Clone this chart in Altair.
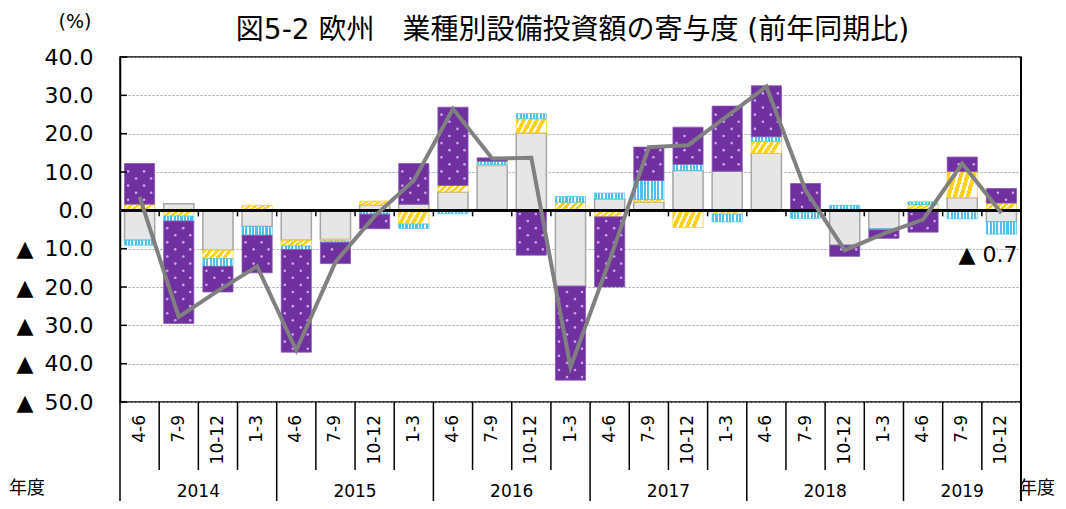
import altair as alt
import pandas as pd

# ---------------- data ----------------
quarter_labels = ["4-6", "7-9", "10-12", "1-3"] * 5 + ["4-6", "7-9", "10-12"]
fiscal_years = [2014] * 4 + [2015] * 4 + [2016] * 4 + [2017] * 4 + [2018] * 4 + [2019] * 3
years = [2014, 2015, 2016, 2017, 2018, 2019]

series_names = ["非製造業", "化学", "電気機械", "輸送機械"]
grey_vals = [-7.8, 1.7, -10.4, -4.2, -7.8, -7.6, 1.3, 1.6, 4.8, 11.7, 20.2, -19.8,
             3.0, 2.2, 10.4, 10.2, 14.9, 0.0, -9.1, -4.8, 0.4, 3.3, -3.0]
yellow_vals = [1.6, -1.5, -2.2, 1.3, -1.5, -0.4, 1.1, -3.6, 1.7, 0.2, 3.7, 2.1,
               -1.7, 0.6, -4.5, -1.0, 3.1, -0.5, 0.3, 0.0, 1.1, 6.8, 1.9]
cyan_vals = [-1.3, -1.3, -2.0, -2.3, -0.9, -0.4, -1.0, -1.1, -0.9, 0.9, 1.3, 1.5,
             1.5, 5.0, 1.6, -2.0, 1.2, -1.6, 1.0, -0.3, 0.7, -2.2, -3.2]
purple_vals = [10.6, -26.7, -6.7, -9.8, -26.8, -5.5, -3.8, 10.6, 20.4, 0.9, -11.7, -24.5,
               -18.3, 8.7, 9.7, 17.0, 13.3, 7.0, -2.9, -2.2, -5.7, 3.8, 3.8]
total_vals = [3.5, -27.8, -21.0, -14.6, -36.5, -13.5, -1.5, 7.8, 26.5, 13.5, 13.7, -40.9,
              -13.0, 16.5, 17.0, 24.6, 32.3, 5.2, -10.4, -6.1, -2.4, 12.2, -0.7]
y_ticks = [-50, -40, -30, -20, -10, 0, 10, 20, 30, 40]

title_text = "図5-2 欧州\u3000業種別設備投資額の寄与度 (前年同期比)"

# ---------------- tables ----------------
ids = [f"{y} {q}" for y, q in zip(fiscal_years, quarter_labels)]
qdf = pd.DataFrame({"q": ids, "label": quarter_labels, "fy": fiscal_years,
                    "idx": range(len(ids))})
qdf["ystart"] = (qdf["label"] == "4-6") & (qdf["idx"] > 0)
qdf["inner"] = (qdf["label"] != "4-6") & (qdf["idx"] > 0)

all_vals = [grey_vals, yellow_vals, cyan_vals, purple_vals]
rows = []
for i, qid in enumerate(ids):
    pos, neg = 0.0, 0.0
    for name, vals in zip(series_names, all_vals):
        v = vals[i]
        if v >= 0:
            y0, pos = pos, pos + v
            y1 = pos
        else:
            y0, neg = neg, neg + v
            y1 = neg
        rows.append({"q": qid, "series": name, "value": v, "y0": y0, "y1": y1})
stack = pd.DataFrame(rows)

# dot texture for the purple segments (derived from the stacked bounds)
dots = []
step = 1.85
for r in stack[stack["series"] == series_names[3]].itertuples():
    lo, hi = min(r.y0, r.y1), max(r.y0, r.y1)
    k0 = int((lo - 0.9) // step) - 1
    k1 = int((hi - 0.9) // step) + 1
    for k in range(k0, k1 + 1):
        yv = 0.9 + k * step
        if lo + 0.6 < yv < hi - 0.6:
            cols = (0, 1) if k % 2 == 0 else (2, 3)
            for c in cols:
                dots.append({"q": r.q, "yv": yv, "col": c})
dots = pd.DataFrame(dots)
dot_offsets = [-3.5, 11.5, -11.5, 4.5]

line_df = pd.DataFrame({"q": ids, "total": total_vals})
ann_df = line_df.tail(1).copy()
tick_df = pd.DataFrame({"v": y_ticks})

full_years = [y for y in years if fiscal_years.count(y) == 4]
part_years = [y for y in years if fiscal_years.count(y) < 4]
yr_full = pd.DataFrame({"yr": [str(y) for y in full_years],
                        "q": [f"{y} 10-12" for y in full_years]})
yr_part = pd.DataFrame({"yr": [str(y) for y in part_years],
                        "q": [f"{y} 7-9" for y in part_years]})

# ---------------- layout ----------------
W, H = 901, 345
FONT = "'DejaVu Sans', 'Noto Sans CJK JP', sans-serif"
xscale = alt.Scale(domain=ids, paddingInner=0, paddingOuter=0)
yscale = alt.Scale(domain=[-50, 40], nice=False, zero=False)

yaxis = alt.Axis(values=y_ticks, grid=True, gridDash=[2, 2], gridColor="#A0A0A0",
                 gridWidth=1, domainColor="black", domainWidth=1.5, ticks=False,
                 tickSize=0, labelFontSize=22, labelFont=FONT, labelColor="black",
                 labelPadding=27, title=None,
                 labelExpr="datum.value < 0 ? '▲\u2002' + format(-datum.value, '.1f') : format(datum.value, '.1f')")


def X(**kw):
    return alt.X("q:N", scale=xscale, axis=None, **kw)


def Y(field):
    return alt.Y(field, scale=yscale, axis=yaxis)


def YD(v):
    return alt.YDatum(v, scale=yscale, axis=yaxis)


def stripes(base, stripe, n, wf, x2, y2):
    stops = []
    for i in range(n):
        a = i / n
        m = (i + 1 - wf) / n
        b = (i + 1) / n
        stops += [{"offset": a, "color": base}, {"offset": m, "color": base},
                  {"offset": m, "color": stripe}, {"offset": b, "color": stripe}]
    return {"gradient": "linear", "x1": 0, "y1": 0, "x2": x2, "y2": y2, "stops": stops}


fills = {
    series_names[0]: "#E6E6E6",
    series_names[1]: stripes("#FFD21A", "#FFFFFF", 5, 0.35, 1, 0.25),
    series_names[2]: stripes("#4CC3EE", "#FFFFFF", 9, 0.38, 1, 0),
    series_names[3]: "#7030A0",
}
strokes = {series_names[0]: "#A6A6A6", series_names[1]: "#FFD21A",
           series_names[2]: "#4CC3EE", series_names[3]: "#8A5BB5"}

layers = []
for i, name in enumerate(series_names):
    layers.append(
        alt.Chart(stack).transform_filter(alt.datum.series == name)
        .mark_bar(width=alt.RelativeBandSize(0.77), fill=fills[name],
                  stroke=strokes[name], strokeWidth=1.5 if i == 0 else 0.8)
        .encode(x=X(), y=Y("y0:Q"), y2="y1:Q")
    )

for c, off in enumerate(dot_offsets):
    layers.append(
        alt.Chart(dots).transform_filter(alt.datum.col == c)
        .mark_point(filled=True, size=7, color="#C9A6EC", opacity=1, xOffset=off)
        .encode(x=X(), y=Y("yv:Q"))
    )

# zero line + ticks at the category boundaries
layers.append(alt.Chart(tick_df).mark_rule(color="black", strokeWidth=1.6)
              .encode(y=YD(0)))
layers.append(alt.Chart(qdf).transform_filter(alt.datum.idx > 0)
              .mark_rule(color="black", strokeWidth=1.5, y2Offset=6)
              .encode(x=X(bandPosition=0), y=YD(0), y2=alt.datum(0)))
# inside ticks on y axis
layers.append(alt.Chart(tick_df).mark_rule(color="black", strokeWidth=1.5)
              .encode(y=Y("v:Q"), x=alt.value(0), x2=alt.value(7)))

# total line
layers.append(alt.Chart(line_df).mark_line(color="#808080", strokeWidth=4, strokeJoin="miter")
              .encode(x=X(), y=Y("total:Q")))

# annotation for last value
layers.append(alt.Chart(ann_df)
              .transform_calculate(txt="(datum.total < 0 ? '▲ ' : '') + format(abs(datum.total), '.1f')")
              .mark_text(font=FONT, fontSize=22, align="right", baseline="middle", dx=16, color="black")
              .encode(x=X(), y=YD(-11.7), text="txt:N"))

# category table below the plot
layers.append(alt.Chart(qdf).transform_filter(alt.datum.inner)
              .mark_rule(color="black", strokeWidth=1.5)
              .encode(x=X(bandPosition=0), y=alt.value(H), y2=alt.value(H + 68)))
layers.append(alt.Chart(qdf).transform_filter(alt.datum.ystart)
              .mark_rule(color="black", strokeWidth=1.5)
              .encode(x=X(bandPosition=0), y=alt.value(H), y2=alt.value(H + 120)))
layers.append(alt.Chart(tick_df).transform_filter(alt.datum.v == 0)
              .mark_rule(color="black", strokeWidth=1.5)
              .encode(x=alt.value(0), y=alt.value(H), y2=alt.value(H + 120)))
layers.append(alt.Chart(tick_df).transform_filter(alt.datum.v == 0)
              .mark_rule(color="black", strokeWidth=2)
              .encode(x=alt.value(W), y=alt.value(0), y2=alt.value(H + 120)))
layers.append(alt.Chart(qdf).mark_text(font=FONT, fontSize=17, angle=270, align="right",
                                       baseline="middle", color="black")
              .encode(x=X(), y=alt.value(H + 13), text="label:N"))
layers.append(alt.Chart(yr_full).mark_text(font=FONT, fontSize=17, baseline="middle", color="black")
              .encode(x=X(bandPosition=0), y=alt.value(H + 90), text="yr:N"))
layers.append(alt.Chart(yr_part).mark_text(font=FONT, fontSize=17, baseline="middle", color="black")
              .encode(x=X(), y=alt.value(H + 90), text="yr:N"))

# texts: title, unit, 年度
txt = pd.DataFrame({"t": [title_text], "u": ["(%)"], "n": ["年度"]})
layers.append(alt.Chart(txt).mark_text(font=FONT, fontSize=28, baseline="alphabetic", color="black")
              .encode(x=alt.value(W / 2 + 2), y=alt.value(-18), text="t:N"))
layers.append(alt.Chart(txt).mark_text(font=FONT, fontSize=19, baseline="middle", color="black")
              .encode(x=alt.value(-45), y=alt.value(-35), text="u:N"))
layers.append(alt.Chart(txt).mark_text(font=FONT, fontSize=18, baseline="middle", align="left",
                                       color="black")
              .encode(x=alt.value(-111), y=alt.value(H + 87), text="n:N"))
layers.append(alt.Chart(txt).mark_text(font=FONT, fontSize=18, baseline="middle", align="left",
                                       color="black")
              .encode(x=alt.value(W - 2), y=alt.value(H + 87), text="n:N"))

chart = (
    alt.layer(*layers)
    .properties(width=W, height=H,
                padding={"left": 112, "top": 49, "right": 37, "bottom": 99},
                autosize=alt.AutoSizeParams(type="none"))
    .configure_view(stroke="black", strokeWidth=1.5)
)

chart.save("out.html", embed_options={"renderer": "svg", "actions": False})
